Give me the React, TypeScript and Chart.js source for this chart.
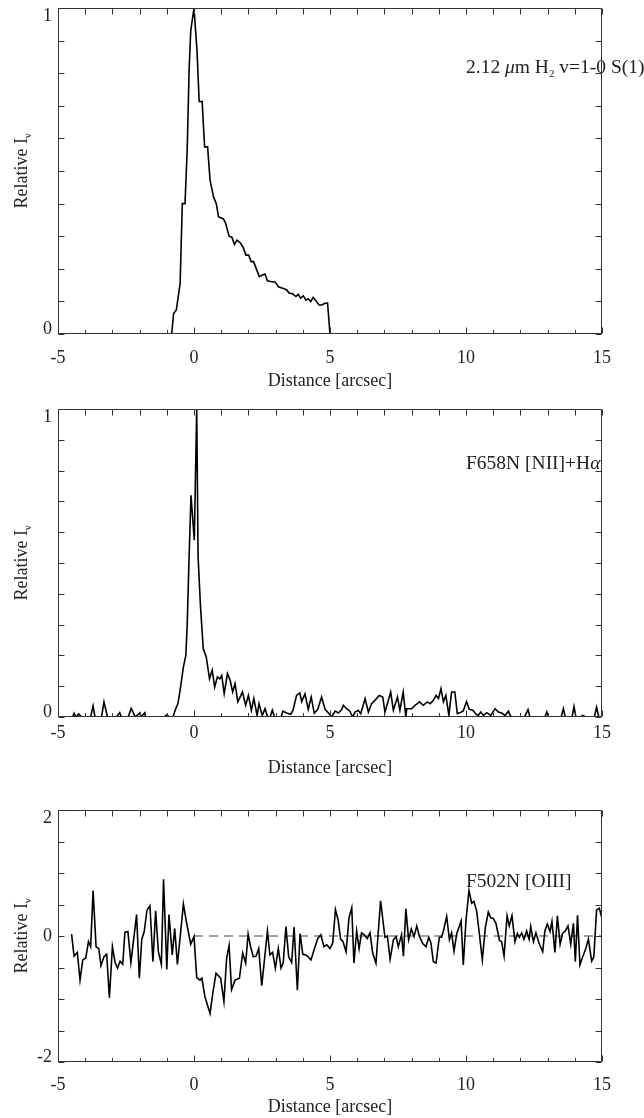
import React, { useEffect, useRef } from "react";
import { Chart, registerables } from "chart.js";

Chart.register(...registerables);

const SERIF = "'Liberation Serif', 'Times New Roman', 'DejaVu Serif', serif";

// ---------- Panel 1: 2.12 um H2 v=1-0 S(1) ----------
const h2Distance = [
  -5, -0.82, -0.75, -0.65, -0.51, -0.43, -0.33, -0.25, -0.18, -0.12,
  0, 0.11, 0.19, 0.3, 0.39, 0.5, 0.59, 0.72, 0.82, 0.9,
  1.08, 1.16, 1.29, 1.39, 1.49, 1.58, 1.7, 1.8, 1.91, 2.01,
  2.1, 2.19, 2.31, 2.4, 2.52, 2.61, 2.7, 2.82, 2.99, 3.1,
  3.31, 3.41, 3.5, 3.61, 3.75, 3.83, 3.92, 4.02, 4.12, 4.2,
  4.29, 4.38, 4.48, 4.6, 4.7, 4.81, 4.91, 5.0, 15,
];
const h2Intensity = [
  0, 0, 0.063, 0.074, 0.155, 0.4, 0.4, 0.565, 0.81, 0.93,
  1.0, 0.87, 0.713, 0.713, 0.574, 0.574, 0.472, 0.42, 0.4, 0.36,
  0.353, 0.34, 0.3, 0.297, 0.275, 0.288, 0.28, 0.267, 0.242, 0.242,
  0.222, 0.222, 0.196, 0.176, 0.181, 0.184, 0.163, 0.161, 0.159, 0.145,
  0.139, 0.135, 0.125, 0.124, 0.115, 0.122, 0.11, 0.117, 0.104, 0.108,
  0.099, 0.112, 0.102, 0.089, 0.089, 0.094, 0.095, 0, 0,
];

// ---------- Panel 2: F658N [NII]+Halpha ----------
const haDistance = [
  -4.46, -4.41, -4.35, -4.24, -4.18, -4.1, -3.8, -3.71, -3.64, -3.4,
  -3.31, -3.18, -2.85, -2.73, -2.67, -2.42, -2.31, -2.22, -2.16, -1.99,
  -1.95, -1.81, -1.78, -1.1, -1.02, -0.95, -0.88, -0.77, -0.69, -0.59,
  -0.51, -0.39, -0.3, -0.25, -0.18, -0.11, 0.01, 0.1, 0.15, 0.24,
  0.34, 0.45, 0.57, 0.67, 0.76, 0.86, 0.95, 1.02, 1.11, 1.23,
  1.33, 1.42, 1.51, 1.61, 1.7, 1.78, 1.9, 2.0, 2.11, 2.2,
  2.32, 2.39, 2.51, 2.61, 2.71, 2.8, 2.88, 2.96, 3.2, 3.27,
  3.4, 3.56, 3.64, 3.77, 3.89, 3.96, 4.08, 4.2, 4.31, 4.42,
  4.55, 4.69, 4.82, 4.95, 5.06, 5.19, 5.31, 5.43, 5.49, 5.61,
  5.73, 5.83, 5.92, 6.04, 6.13, 6.29, 6.41, 6.53, 6.65, 6.81,
  6.94, 7.02, 7.11, 7.23, 7.33, 7.48, 7.57, 7.69, 7.79, 7.82,
  8.0, 8.13, 8.29, 8.43, 8.58, 8.68, 8.8, 8.9, 8.99, 9.08,
  9.17, 9.26, 9.37, 9.47, 9.59, 9.68, 9.8, 9.9, 10.02, 10.12,
  10.25, 10.36, 10.45, 10.54, 10.64, 10.76, 10.91, 11.07, 11.19, 11.31,
  11.44, 11.56, 11.64, 11.75, 12.15, 12.28, 12.35, 12.9, 12.97, 13.04,
  13.5, 13.58, 13.65, 13.9, 13.97, 14.04, 14.2, 14.3, 14.4, 14.72,
  14.8, 14.88,
];
const haIntensity = [
  0, 0.012, 0, 0.01, 0.004, 0, 0, 0.036, 0, 0,
  0.049, 0, 0, 0.014, 0, 0, 0.028, 0.012, 0, 0.014,
  0, 0.014, 0, 0, 0.006, 0.003, 0, 0, 0.023, 0.044,
  0.087, 0.162, 0.2, 0.3, 0.52, 0.72, 0.574, 1.0, 0.52, 0.357,
  0.222, 0.195, 0.124, 0.152, 0.097, 0.13, 0.124, 0.135, 0.076, 0.141,
  0.119, 0.081, 0.108, 0.049, 0.065, 0.081, 0.038, 0.07, 0.022, 0.06,
  0.005, 0.043, 0.005, 0.027, 0, 0, 0.022, 0, 0, 0.019,
  0.013, 0.009, 0.022, 0.07, 0.078, 0.05, 0.075, 0.025, 0.065, 0.012,
  0.025, 0.065, 0.025, 0.012, 0, 0.019, 0.013, 0.024, 0.038, 0.027,
  0.019, 0, 0.016, 0.022, 0.011, 0.06, 0.016, 0.043, 0.054, 0.07,
  0.065, 0.016, 0.043, 0.081, 0.022, 0.065, 0.022, 0.081, 0, 0.027,
  0.027, 0.038, 0.049, 0.038, 0.049, 0.043, 0.054, 0.07, 0.06, 0.092,
  0.049, 0.07, 0.005, 0.081, 0.081, 0.011, 0.015, 0.02, 0.05, 0.025,
  0.022, 0.01, 0.005, 0.016, 0.005, 0.014, 0.005, 0.027, 0.016, 0.013,
  0.005, 0.019, 0.002, 0, 0, 0.024, 0, 0, 0.016, 0,
  0, 0.027, 0, 0, 0.034, 0, 0, 0.005, 0, 0,
  0.032, 0,
];

// ---------- Panel 3: F502N [OIII] ----------
const o3Distance = [
  -4.5, -4.41, -4.29, -4.19, -4.09, -3.98, -3.88, -3.8, -3.71, -3.6,
  -3.5, -3.42, -3.31, -3.21, -3.11, -3.0, -2.9, -2.81, -2.72, -2.62,
  -2.54, -2.43, -2.32, -2.11, -2.01, -1.92, -1.83, -1.73, -1.62, -1.51,
  -1.41, -1.31, -1.2, -1.12, -1.0, -0.92, -0.8, -0.71, -0.61, -0.5,
  -0.39, -0.29, -0.12, 0.0, 0.1, 0.22, 0.29, 0.4, 0.59, 0.69,
  0.81, 0.98, 1.1, 1.2, 1.29, 1.38, 1.51, 1.67, 1.79, 1.9,
  1.99, 2.08, 2.18, 2.28, 2.38, 2.49, 2.59, 2.7, 2.79, 2.89,
  2.99, 3.1, 3.2, 3.28, 3.38, 3.48, 3.59, 3.68, 3.8, 3.9,
  4.0, 4.11, 4.2, 4.3, 4.45, 4.55, 4.66, 4.78, 4.88, 5.0,
  5.1, 5.2, 5.3, 5.39, 5.48, 5.59, 5.7, 5.8, 5.88, 5.98,
  6.07, 6.16, 6.26, 6.37, 6.47, 6.57, 6.69, 6.86, 7.02, 7.11,
  7.21, 7.33, 7.43, 7.51, 7.63, 7.7, 7.79, 7.89, 7.99, 8.09,
  8.19, 8.29, 8.41, 8.53, 8.63, 8.71, 8.8, 8.9, 9.02, 9.1,
  9.17, 9.29, 9.39, 9.47, 9.56, 9.66, 9.76, 9.82, 9.9, 10.0,
  10.11, 10.21, 10.29, 10.39, 10.49, 10.6, 10.71, 10.82, 10.91, 11.0,
  11.1, 11.23, 11.31, 11.4, 11.51, 11.59, 11.69, 11.8, 11.89, 11.96,
  12.05, 12.13, 12.23, 12.32, 12.38, 12.48, 12.57, 12.69, 12.82, 12.9,
  12.99, 13.09, 13.16, 13.27, 13.36, 13.46, 13.55, 13.65, 13.75, 13.85,
  13.95, 14.02, 14.1, 14.19, 14.29, 14.39, 14.5, 14.62, 14.7, 14.8,
  14.9, 15.0,
];
const o3Intensity = [
  0.03, -0.32, -0.26, -0.7, -0.38, -0.35, -0.09, -0.17, 0.72, -0.17,
  -0.2, -0.47, -0.33, -0.29, -0.98, -0.17, -0.42, -0.51, -0.4, -0.45,
  0.06, 0.07, -0.42, 0.34, -0.67, -0.05, 0.07, 0.41, 0.48, -0.41,
  0.4, -0.25, -0.45, 0.9, -0.53, 0.34, -0.3, 0.12, -0.45, 0.02,
  0.51, 0.25, -0.13, -0.01, -0.66, -0.7, -0.67, -0.96, -1.23, -0.91,
  -0.59, -0.67, -1.04, -0.35, -0.15, -0.85, -0.7, -0.67, -0.27, -0.43,
  0.03, -0.17, -0.33, -0.32, -0.2, -0.79, -0.38, 0.08, -0.3, -0.26,
  -0.51, -0.2, -0.51, -0.43, 0.15, -0.33, -0.42, 0.14, -0.86, 0.04,
  -0.29, -0.3, -0.33, -0.38, -0.17, -0.04, 0.02, -0.17, -0.14, -0.2,
  -0.11, 0.42, 0.25, -0.05, -0.09, -0.25, 0.29, 0.45, -0.43, 0.08,
  -0.2, 0.05, 0.02, -0.04, 0.05, -0.27, -0.43, 0.56, -0.02, 0,
  -0.37, -0.06, -0.01, -0.17, 0.02, -0.32, 0.43, -0.06, 0.11, -0.01,
  0.16, -0.01, -0.12, -0.17, -0.02, -0.11, -0.41, -0.43, -0.02, -0.02,
  0.08, 0.31, -0.06, 0.05, -0.24, 0.04, 0.16, 0.24, -0.46, 0.25,
  0.72, 0.52, 0.55, 0.4, 0.04, -0.38, 0.13, 0.38, 0.29, 0.28,
  0.2, -0.07, -0.09, -0.32, 0.32, 0.16, 0.32, -0.09, 0.04, -0.02,
  0.05, -0.05, 0.08, -0.05, 0.15, -0.09, 0.05, -0.12, -0.25, 0.08,
  0.19, 0.07, 0.23, -0.26, 0.32, -0.13, 0.04, 0.08, 0.16, -0.13,
  0.2, -0.41, 0.33, -0.46, -0.33, -0.22, -0.05, -0.4, -0.33, 0.41,
  0.44, 0.28,
];
const zeroLineDistance = [0, 15];
const zeroLineIntensity = [0, 0];

// ---------- Axis labels ----------
const xTickLabels = [-5, 0, 5, 10, 15];
const yTickLabelsUnit = [0, 1];
const yTickLabelsOIII = [-2, 0, 2];
const xAxisTitle = "Distance [arcsec]";

type Seg = { t: string; italic?: boolean; sub?: boolean };
const yAxisTitle: Seg[] = [{ t: "Relative I" }, { t: "ν", sub: true }];
const h2Label: Seg[] = [
  { t: "2.12 " },
  { t: "μ", italic: true },
  { t: "m H" },
  { t: "2", sub: true },
  { t: " v=1-0 S(1)" },
];
const haLabel: Seg[] = [{ t: "F658N [NII]+H" }, { t: "α", italic: true }];
const o3Label: Seg[] = [{ t: "F502N [OIII]" }];

const W = 644;
const FS = 18;
const LABEL_FS = 19.5;
const TEXT = "#222";

function segFont(s: Seg, size: number) {
  const fs = s.sub ? Math.round(size * 0.55) : size;
  return `${s.italic ? "italic " : ""}${fs}px ${SERIF}`;
}
function richWidth(ctx: CanvasRenderingContext2D, segs: Seg[], size: number) {
  let w = 0;
  for (const s of segs) {
    ctx.font = segFont(s, size);
    w += ctx.measureText(s.t).width;
  }
  return w;
}
function drawRich(ctx: CanvasRenderingContext2D, segs: Seg[], x: number, y: number, size: number) {
  let cx = x;
  ctx.fillStyle = TEXT;
  ctx.textAlign = "left";
  ctx.textBaseline = "alphabetic";
  for (const s of segs) {
    ctx.font = segFont(s, size);
    ctx.fillText(s.t, cx, s.sub ? y + size * 0.22 : y);
    cx += ctx.measureText(s.t).width;
  }
}

type PanelProps = {
  top: number;
  height: number;
  areaTop: number;
  areaBottom: number;
  xs: number[];
  ys: number[];
  yMin: number;
  yMax: number;
  yStep: number;
  yLabels: number[];
  label: Seg[];
  labelX: number;
  labelY: number;
  tickPad: number;
  titlePad: number;
  dashed?: boolean;
};

function Panel(p: PanelProps) {
  const ref = useRef<HTMLCanvasElement>(null);
  useEffect(() => {
    const framePlugin = {
      id: "frame" + p.top,
      afterDraw(chart: any) {
        const { ctx, chartArea: a, scales } = chart;
        const x = scales.x;
        const y = scales.y;
        ctx.save();
        ctx.strokeStyle = "#333";
        ctx.lineWidth = 1;
        const L = Math.round(a.left) + 0.5;
        const R = Math.round(a.right) - 0.5;
        const T = Math.round(a.top) + 0.5;
        const B = Math.round(a.bottom) - 0.5;
        ctx.beginPath();
        ctx.rect(L, T, R - L, B - T);
        for (const t of x.ticks) {
          const px = Math.round(x.getPixelForValue(t.value)) + 0.5;
          const major = xTickLabels.includes(t.value);
          ctx.moveTo(px, B);
          ctx.lineTo(px, B - (major ? 6 : 3.5));
          ctx.moveTo(px, T);
          ctx.lineTo(px, T + 6);
        }
        for (const t of y.ticks) {
          const py = Math.round(y.getPixelForValue(t.value)) + 0.5;
          ctx.moveTo(L, py);
          ctx.lineTo(L + 6, py);
          ctx.moveTo(R, py);
          ctx.lineTo(R - 6, py);
        }
        ctx.stroke();

        // annotation label
        drawRich(ctx, p.label, x.getPixelForValue(p.labelX), y.getPixelForValue(p.labelY), LABEL_FS);

        // y axis title (rotated, with subscript)
        const cy = (a.top + a.bottom) / 2;
        ctx.translate(27, cy);
        ctx.rotate(-Math.PI / 2);
        const w = richWidth(ctx, yAxisTitle, FS);
        drawRich(ctx, yAxisTitle, -w / 2, 0, FS);
        ctx.restore();
      },
    };

    const datasets: any[] = [
      {
        data: p.xs.map((v, i) => ({ x: v, y: p.ys[i] })),
        borderColor: "#000",
        borderWidth: 1.6,
        pointRadius: 0,
        tension: 0,
        fill: false,
      },
    ];
    if (p.dashed) {
      datasets.push({
        data: zeroLineDistance.map((v, i) => ({ x: v, y: zeroLineIntensity[i] })),
        borderColor: "#444",
        borderWidth: 1.2,
        borderDash: [9, 6],
        pointRadius: 0,
        fill: false,
      });
    }

    const chart = new Chart(ref.current as HTMLCanvasElement, {
      type: "line",
      data: { datasets },
      options: {
        responsive: false,
        animation: false,
        devicePixelRatio: 1,
        layout: { padding: { left: 0, right: W - 602, top: p.areaTop, bottom: 0 } },
        plugins: { legend: { display: false }, tooltip: { enabled: false } },
        scales: {
          x: {
            type: "linear",
            min: -5,
            max: 15,
            grid: { display: false, drawTicks: false },
            border: { display: false },
            ticks: {
              stepSize: 1,
              autoSkip: false,
              maxRotation: 0,
              padding: p.tickPad,
              color: TEXT,
              font: { family: SERIF, size: FS },
              callback: (v: any) => (xTickLabels.includes(Number(v)) ? String(v) : ""),
            },
            title: {
              display: true,
              text: xAxisTitle,
              color: TEXT,
              font: { family: SERIF, size: FS },
              padding: { top: 0, bottom: p.titlePad },
            },
            afterFit: (s: any) => {
              s.height = p.height - p.areaBottom;
              s.paddingLeft = 0;
              s.paddingRight = 0;
            },
          },
          y: {
            type: "linear",
            min: p.yMin,
            max: p.yMax,
            grid: { display: false, drawTicks: false },
            border: { display: false },
            ticks: {
              stepSize: p.yStep,
              autoSkip: false,
              padding: 6,
              color: TEXT,
              font: (c: any) => ({
                family: SERIF,
                size: FS,
                lineHeight: c.tick && Math.abs(c.tick.value - p.yMin) < 1e-6 ? 0.55 : 0.9,
              }),
              callback: (v: any) => {
                const n = Number(v);
                const lab = p.yLabels.find((l) => Math.abs(l - n) < 1e-6);
                if (lab === undefined) return "";
                if (lab === p.yMax) return ["", String(lab)];
                if (lab === p.yMin) return [String(lab), ""];
                return String(lab);
              },
            },
            afterFit: (s: any) => {
              s.width = 58;
              s.paddingTop = 0;
              s.paddingBottom = 0;
            },
          },
        },
      } as any,
      plugins: [framePlugin],
    });
    return () => chart.destroy();
  }, []);
  return (
    <canvas
      ref={ref}
      width={W}
      height={p.height}
      style={{ position: "absolute", left: 0, top: p.top, width: W, height: p.height, display: "block" }}
    />
  );
}

export default function App() {
  return (
    <div style={{ position: "absolute", left: 0, top: 0, width: W, height: 1118, background: "#fff", overflow: "hidden" }}>
      <Panel
        top={0}
        height={400}
        areaTop={8}
        areaBottom={334}
        xs={h2Distance}
        ys={h2Intensity}
        yMin={0}
        yMax={1}
        yStep={0.1}
        yLabels={yTickLabelsUnit}
        label={h2Label}
        labelX={10}
        labelY={0.8}
        tickPad={13}
        titlePad={8}
      />
      <Panel
        top={390}
        height={400}
        areaTop={19}
        areaBottom={327}
        xs={haDistance}
        ys={haIntensity}
        yMin={0}
        yMax={1}
        yStep={0.1}
        yLabels={yTickLabelsUnit}
        label={haLabel}
        labelX={10}
        labelY={0.805}
        tickPad={5}
        titlePad={11}
      />
      <Panel
        top={790}
        height={328}
        areaTop={20}
        areaBottom={272}
        xs={o3Distance}
        ys={o3Intensity}
        yMin={-2}
        yMax={2}
        yStep={0.5}
        yLabels={yTickLabelsOIII}
        label={o3Label}
        labelX={10}
        labelY={0.78}
        tickPad={12}
        titlePad={0}
        dashed
      />
    </div>
  );
}
